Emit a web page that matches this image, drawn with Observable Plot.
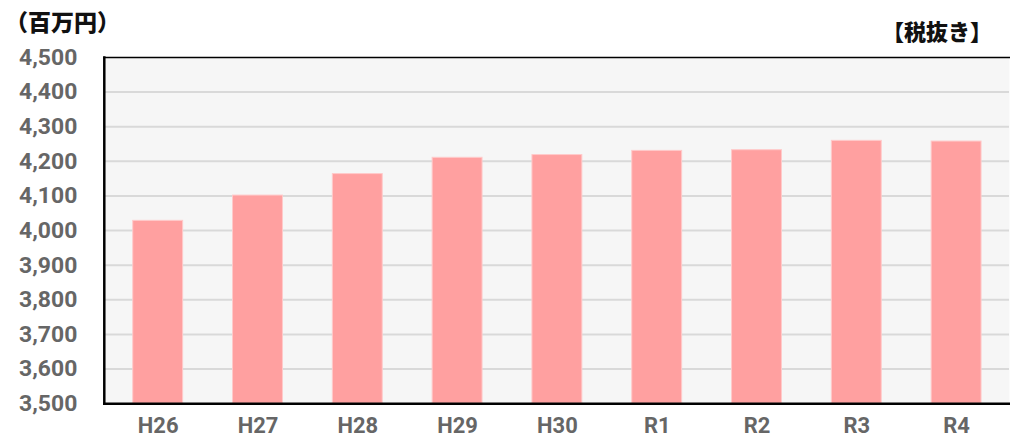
<!DOCTYPE html>
<html>
<head>
<meta charset="utf-8">
<script src="https://cdn.jsdelivr.net/npm/d3@7"></script>
<script src="https://cdn.jsdelivr.net/npm/@observablehq/plot@0.6"></script>
<style>
  html, body { margin: 0; padding: 0; background: #fff; }
  #wrap { position: relative; width: 1010px; height: 441px; overflow: hidden; }
  .ttl { position: absolute; font-family: "Noto Sans CJK JP", sans-serif; font-weight: 900; color: #111; white-space: nowrap; }
  svg { display: block; }
</style>
</head>
<body>
<div id="wrap">
  <div class="ttl" id="unit" style="left:5px; top:5px; font-size:23px; line-height:32px;">（百万円）</div>
  <div class="ttl" id="tax" style="left:882px; top:14px; font-size:22px; line-height:32px;">【税抜き】</div>
</div>
<script>
const categories = ["H26", "H27", "H28", "H29", "H30", "R1", "R2", "R3", "R4"];
const values = [4028, 4101, 4163, 4210, 4218, 4230, 4232, 4259, 4257];
const yTicks = [3500, 3600, 3700, 3800, 3900, 4000, 4100, 4200, 4300, 4400, 4500];

const data = categories.map((c, i) => ({cat: c, value: values[i]}));

const chart = Plot.plot({
  width: 1012,
  height: 441,
  marginLeft: 104,
  marginRight: 1,
  marginTop: 57,
  marginBottom: 37,
  style: {fontFamily: "Roboto, 'Liberation Sans', sans-serif", background: "transparent", overflow: "visible"},
  x: {domain: categories, paddingInner: 0.5, paddingOuter: 0.25, label: null},
  y: {domain: [3500, 4500], ticks: yTicks, label: null},
  marks: [
    Plot.frame({fill: "#f6f6f6", stroke: null}),
    Plot.gridY(yTicks.slice(1, -1), {stroke: "#d9d9d9", strokeOpacity: 1, strokeWidth: 2}),
    Plot.barY(data, {x: "cat", y1: 3500, y2: "value", fill: "#ffa0a0", stroke: "#ffcaca", strokeWidth: 1}),
    Plot.axisY(yTicks, {tickSize: 0, tickPadding: 27, tickFormat: d3.format(","), fontSize: 23, fontWeight: 700, fill: "#666", label: null}),
    Plot.axisX({tickSize: 0, tickPadding: 14, fontSize: 22, fontWeight: 700, fill: "#666", label: null}),
    Plot.frame({anchor: "left", stroke: "#000", strokeWidth: 2.5}),
    Plot.frame({anchor: "bottom", stroke: "#000", strokeWidth: 2.5}),
    Plot.frame({anchor: "top", stroke: "#000", strokeWidth: 1.5})
  ]
});
document.getElementById("wrap").prepend(chart);
chart.style.position = "absolute";
chart.style.left = "0";
chart.style.top = "0";
</script>
</body>
</html>
